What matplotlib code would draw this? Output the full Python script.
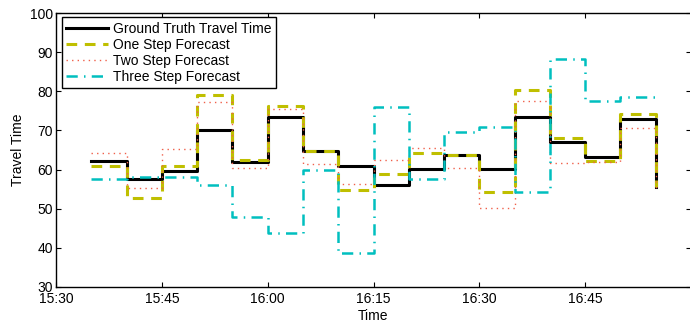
import datetime as dt

import matplotlib
matplotlib.use("Agg")
import matplotlib.dates as mdates
import matplotlib.pyplot as plt

# 5-minute intervals, 15:35 .. 16:55 (stairs style: last point only closes the step)
times = ["15:35", "15:40", "15:45", "15:50", "15:55", "16:00", "16:05", "16:10", "16:15",
         "16:20", "16:25", "16:30", "16:35", "16:40", "16:45", "16:50", "16:55"]

ground_truth = [62.3, 57.5, 59.6, 70.1, 62.0, 73.5, 64.8, 60.9, 56.0,
                60.1, 63.6, 60.1, 73.4, 67.0, 63.3, 72.9, 55.6]
one_step = [60.9, 52.6, 60.9, 79.1, 62.4, 76.3, 64.8, 54.7, 58.9,
            64.2, 63.6, 54.2, 80.4, 68.2, 62.2, 74.1, 55.6]
two_step = [64.3, 55.2, 65.3, 77.4, 60.3, 75.5, 61.4, 56.4, 62.4,
            65.4, 60.3, 50.1, 77.6, 61.6, 62.0, 70.6, 54.3]
three_step = [57.5, 58.2, 58.2, 56.0, 47.8, 43.7, 59.9, 38.6, 75.9,
              57.5, 69.5, 70.9, 54.3, 88.3, 77.6, 78.5, 78.5]

# the 17:00 label (and right spine) fall just outside the cropped original
x_ticks = ["15:30", "15:45", "16:00", "16:15", "16:30", "16:45"]


def to_dt(s):
    h, m = map(int, s.split(":"))
    return dt.datetime(2000, 1, 1, h, m)


plt.rcParams["font.family"] = ["Liberation Sans", "DejaVu Sans"]
plt.rcParams["font.size"] = 10

fig = plt.figure(figsize=(6.9, 3.23), dpi=100)
ax = fig.add_axes([56 / 690, 36.3 / 323, 635 / 690, 273.4 / 323])

t = [to_dt(s) for s in times]
ax.step(t, ground_truth, where="post", color="black", lw=2.2, label="Ground Truth Travel Time")
ax.step(t, one_step, where="post", color="#bfbf00", lw=2.2, ls=(0, (3.5, 2.5)),
        label="One Step Forecast")
ax.step(t, two_step, where="post", color="#f0604a", lw=1.0, ls=(0, (1, 3)),
        label="Two Step Forecast")
ax.step(t, three_step, where="post", color="#00bfbf", lw=1.8, ls=(0, (4.5, 2.5, 0.6, 2.5)),
        label="Three Step Forecast")

ax.set_xlim(to_dt("15:30"), to_dt("17:00"))
ax.set_ylim(30, 100)
ax.set_xticks([to_dt(s) for s in x_ticks])
ax.xaxis.set_major_formatter(mdates.DateFormatter("%H:%M"))
ax.set_yticks(range(30, 101, 10))
ax.tick_params(direction="in", top=True, right=True, length=3.6, width=0.8, pad=2)
ax.tick_params(axis="x", pad=4)
for sp in ax.spines.values():
    sp.set_linewidth(1.0)

ax.set_xlabel("Time", labelpad=2)
ax.set_ylabel("Travel Time", labelpad=4)

leg = ax.legend(loc="upper left", bbox_to_anchor=(0.0095, 0.985), borderaxespad=0,
                fancybox=False, framealpha=1, edgecolor="black", handlelength=3.0,
                handletextpad=0.4, labelspacing=0.15, borderpad=0.3)
leg.get_frame().set_linewidth(1.0)

fig.savefig("out.png", dpi=100)
